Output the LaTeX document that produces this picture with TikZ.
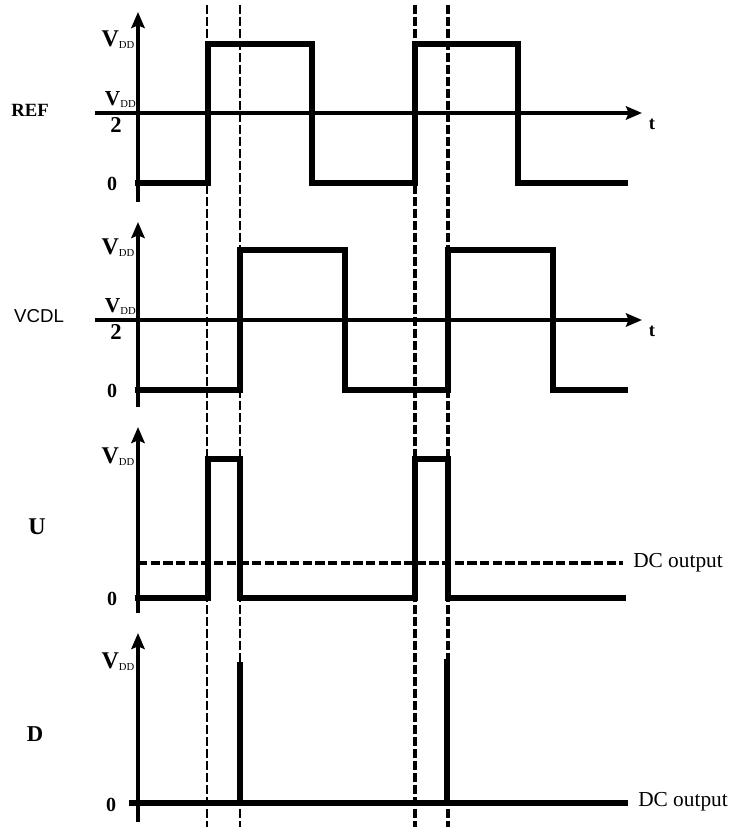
\documentclass[tikz,border=0pt]{standalone}
\usepackage{fontspec}
\setmainfont{Liberation Serif}
\setsansfont{Liberation Sans}
\usetikzlibrary{arrows.meta}
\usetikzlibrary{positioning}

\newcommand{\vdd}{\textbf{V}\raisebox{-0.2ex}{\fontsize{8}{9}\selectfont DD}}

\begin{document}
\begin{tikzpicture}[x=0.75pt,y=-0.75pt,
    axis/.style={line width=2.8pt,-{Stealth[length=12pt,width=10pt,inset=2pt]}},
    bar/.style={line width=2.4pt},
    wave/.style={line width=4pt,line join=miter,line cap=rect},
    guide/.style={line width=1.5pt,dash pattern=on 6.5pt off 2.5pt},
    guidebold/.style={line width=2.3pt,dash pattern=on 6.5pt off 2.5pt},
    dclevel/.style={line width=2.4pt,dash pattern=on 7pt off 2.5pt},
    signame/.style={font=\fontsize{14}{16}\selectfont\bfseries},
    lvl/.style={font=\fontsize{15}{17}\selectfont\bfseries,inner sep=1pt},
    vlbl/.style={font=\fontsize{18}{20}\selectfont,anchor=east,inner sep=1pt},
    numlbl/.style={font=\fontsize{16}{18}\selectfont,anchor=south east,inner sep=0pt},
    twolbl/.style={font=\fontsize{17}{19}\selectfont\bfseries,anchor=north,inner sep=0pt},
    tlbl/.style={font=\fontsize{14}{16}\selectfont\bfseries},
    dclbl/.style={font=\fontsize{16}{18}\selectfont,anchor=west,inner sep=0pt}]
  \useasboundingbox (0,0) rectangle (739,827);

  % vertical timing guides
  \draw[guide] (207,5) -- (207,827);
  \draw[guide] (240,5) -- (240,827);
  \draw[guidebold] (415,5) -- (415,827);
  \draw[guidebold] (448,5) -- (448,827);

  % REF
  \coordinate (refBot) at (138,202);
  \coordinate (refTop) at (138,12);
  \coordinate (refMid) at (138,113);
  \coordinate (refEnd) at (642,113);
  \draw[axis] (refBot) -- (refTop);
  \draw[axis] (refMid) -- (refEnd);
  \draw[bar] (95,113) -- (refMid);
  \draw[wave] (138,183) -- (208,183) -- (208,44) -- (312,44) -- (312,183)
    -- (415,183) -- (415,44) -- (518,44) -- (518,183) -- (625,183);
  \node[signame] (refName) at (30,110) {REF};
  \node[vlbl] (refVdd) at (136,40) {\vdd};
  \node[numlbl] (refNum) at (136,108) {\vdd};
  \node[twolbl] (refTwo) at (116,117) {2};
  \node[lvl] (refZero) at (112,184) {0};
  \node[tlbl] (refT) at (652,124) {t};

  % VCDL
  \coordinate (vcdlBot) at (138,407);
  \coordinate (vcdlTop) at (138,222);
  \coordinate (vcdlMid) at (138,320);
  \coordinate (vcdlEnd) at (642,320);
  \draw[axis] (vcdlBot) -- (vcdlTop);
  \draw[axis] (vcdlMid) -- (vcdlEnd);
  \draw[bar] (95,320) -- (vcdlMid);
  \draw[wave] (138,390) -- (240,390) -- (240,250) -- (345,250) -- (345,390)
    -- (448,390) -- (448,250) -- (553,250) -- (553,390) -- (625,390);
  \node[font=\fontsize{14}{16}\selectfont\sffamily] (vcdlName) at (39,316) {VCDL};
  \node[vlbl] (vcdlVdd) at (136,248) {\vdd};
  \node[numlbl] (vcdlNum) at (136,315) {\vdd};
  \node[twolbl] (vcdlTwo) at (116,324) {2};
  \node[lvl] (vcdlZero) at (112,391) {0};
  \node[tlbl] (vcdlT) at (652,331) {t};

  % U
  \coordinate (uBot) at (138,613);
  \coordinate (uTop) at (138,427);
  \coordinate (uDc) at (138,563);
  \coordinate (uDcEnd) at (623,563);
  \draw[axis] (uBot) -- (uTop);
  \draw[dclevel] (uDc) -- (uDcEnd);
  \draw[wave] (138,598) -- (208,598) -- (208,459) -- (240,459) -- (240,598)
    -- (415,598) -- (415,459) -- (448,459) -- (448,598) -- (623,598);
  \node[signame,font=\fontsize{18}{20}\selectfont\bfseries] (uName) at (37,527) {U};
  \node[vlbl] (uVdd) at (136,457) {\vdd};
  \node[lvl] (uZero) at (112,599) {0};
  \node[dclbl] (uDcLbl) at (633,563) {DC output};

  % D
  \coordinate (dBot) at (138,822);
  \coordinate (dTop) at (138,633);
  \coordinate (dStart) at (132,803);
  \coordinate (dEnd) at (625,803);
  \draw[axis] (dBot) -- (dTop);
  \draw[wave] (dStart) -- (dEnd);
  \draw[wave] (240,665) -- (240,803);
  \draw[wave] (447,662) -- (447,803);
  \node[signame,font=\fontsize{17}{19}\selectfont\bfseries] (dName) at (35,734) {D};
  \node[vlbl] (dVdd) at (136,662) {\vdd};
  \node[lvl] (dZero) at (111,805) {0};
  \node[dclbl] (dDcLbl) at (638,802) {DC output};
\end{tikzpicture}
\end{document}
